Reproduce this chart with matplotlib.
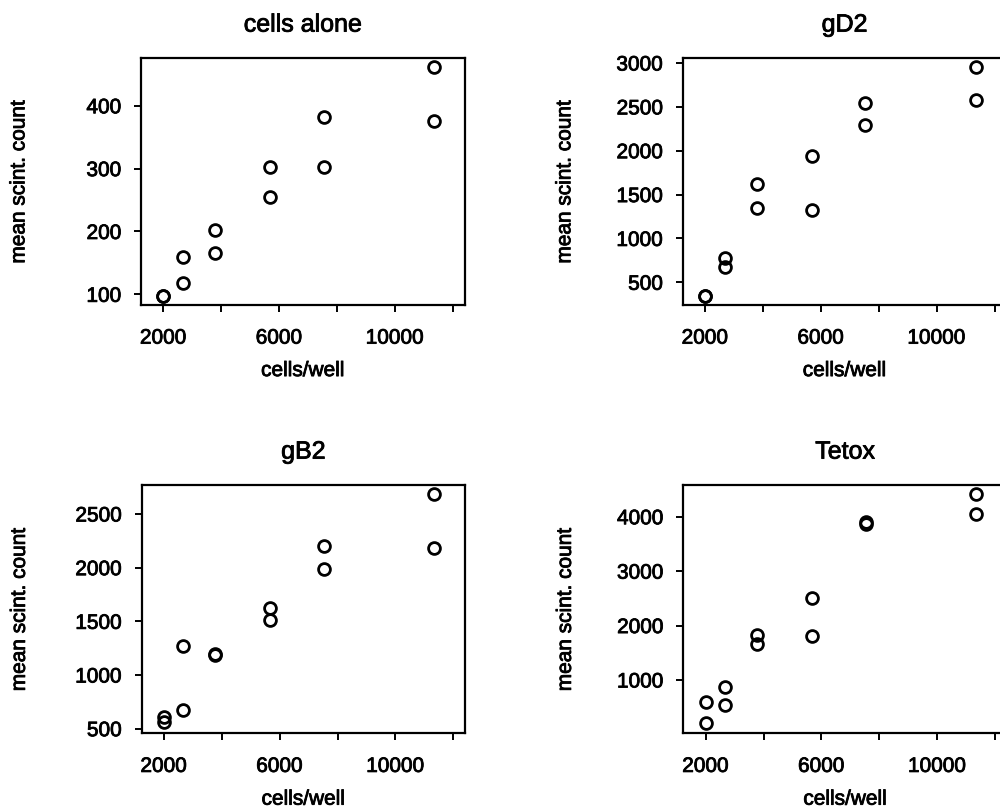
import numpy as np
import matplotlib
matplotlib.use("Agg")
import matplotlib.pyplot as plt
import matplotlib.patheffects as pe

# ---- data ----
cells_well = [2000, 2680, 3780, 5680, 7540, 11340]

cells_alone_a = [98, 160, 202, 302, 382, 462]
cells_alone_b = [98, 118, 166, 255, 303, 376]

gd2_a = [344, 774, 1619, 1942, 2544, 2955]
gd2_b = [344, 678, 1345, 1322, 2296, 2582]

gb2_a = [605, 1273, 1200, 1621, 2201, 2685]
gb2_b = [560, 674, 1190, 1512, 1990, 2182]

tetox_a = [601, 877, 1827, 2501, 3910, 4419]
tetox_b = [204, 540, 1662, 1814, 3862, 4045]

titles = ["cells alone", "gD2", "gB2", "Tetox"]
series = [(cells_alone_a, cells_alone_b), (gd2_a, gd2_b),
          (gb2_a, gb2_b), (tetox_a, tetox_b)]
yticks = [[100, 200, 300, 400],
          [500, 1000, 1500, 2000, 2500, 3000],
          [500, 1000, 1500, 2000, 2500],
          [1000, 2000, 3000, 4000]]
ylims = [(83, 476), (241, 3057), (457, 2770), (20, 4583)]
xticks = [2000, 4000, 6000, 8000, 10000, 12000]
xticklabels = ["2000", "", "6000", "", "10000", ""]

plt.rcParams['font.family'] = ['Liberation Sans', 'DejaVu Sans']

fig = plt.figure(figsize=(10, 8.1), dpi=100)

W, H = 1000, 810
# panel boxes in pixels: left, top, right, bottom
boxes = [(141, 58, 464.5, 305), (682.7, 58, 1006.2, 305),
         (141.5, 485, 465, 733.3), (683.3, 485, 1006.8, 733.3)]
ylab_x = [-0.348, -0.335, -0.348, -0.335]

for i in range(4):
    l, t, r, b = boxes[i]
    ax = fig.add_axes([l / W, 1 - b / H, (r - l) / W, (b - t) / H])
    ya, yb = series[i]
    for ys in (ya, yb):
        ax.plot(cells_well, ys, linestyle='none', marker='o', markersize=8.5,
                markerfacecolor='none', markeredgecolor='black',
                markeredgewidth=2.0)
    ax.set_xlim(1230, 12400)
    ax.set_ylim(*ylims[i])
    ax.set_xticks(xticks)
    ax.set_xticklabels(xticklabels)
    ax.set_yticks(yticks[i])
    ax.tick_params(axis='both', direction='out', length=5, width=1.4,
                   labelsize=15, colors='black')
    ax.tick_params(axis='x', pad=12)
    ax.tick_params(axis='y', pad=9)
    for sp in ax.spines.values():
        sp.set_linewidth(1.6)
    ax.set_title(titles[i], fontsize=18, pad=19)
    ax.set_xlabel("cells/well", fontsize=15)
    ax.set_ylabel("mean scint. count", fontsize=15)
    ax.xaxis.set_label_coords(0.5, -0.227)
    ax.yaxis.set_label_coords(ylab_x[i], 0.5)

# scanned print looks a bit heavier than plain regular weight
for txt in fig.findobj(matplotlib.text.Text):
    txt.set_path_effects([pe.withStroke(linewidth=0.6, foreground='black')])

fig.savefig("out.png", dpi=100, facecolor='white')
